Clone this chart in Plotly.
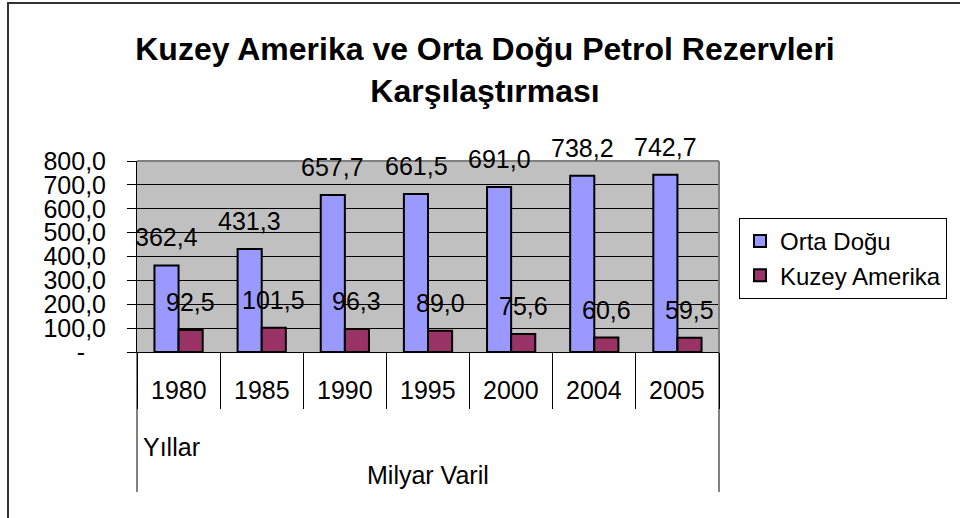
import plotly.graph_objects as go

categories = ["1980", "1985", "1990", "1995", "2000", "2004", "2005"]
orta_dogu = [362.4, 431.3, 657.7, 661.5, 691.0, 738.2, 742.7]
kuzey_amerika = [92.5, 101.5, 96.3, 89.0, 75.6, 60.6, 59.5]
series_names = ["Orta Doğu", "Kuzey Amerika"]
y_tick_vals = [0, 100, 200, 300, 400, 500, 600, 700, 800]
y_tick_text = ["-\u00a0\u00a0\u00a0", "100,0", "200,0", "300,0", "400,0", "500,0", "600,0", "700,0", "800,0"]
title_text = "Kuzey Amerika ve Orta Doğu Petrol Rezervleri<br>Karşılaştırması"
x_title_1 = "Yıllar"
x_title_2 = "Milyar Varil"

W, H = 960, 518
L, R, T, B = 137, 719, 161, 352
FONT = "Liberation Sans, Arial, sans-serif"

def px_x(px):
    return (px - L) / (R - L)

def px_y(py):
    return (B - py) / (B - T)

def fmt(v):
    return f"{v:.1f}".replace(".", ",")

fig = go.Figure()
fig.add_trace(go.Bar(x=categories, y=orta_dogu, name=series_names[0],
                     marker=dict(color="#9999FF", line=dict(color="black", width=2))))
fig.add_trace(go.Bar(x=categories, y=kuzey_amerika, name=series_names[1],
                     marker=dict(color="#993366", line=dict(color="black", width=2))))

annotations = []
for i, v in enumerate(orta_dogu):
    annotations.append(dict(x=i, y=v, xref="x", yref="y", text=fmt(v), showarrow=False,
                            xshift=-12, yshift=28, yanchor="middle",
                            font=dict(size=25, color="black", family=FONT)))
for i, v in enumerate(kuzey_amerika):
    annotations.append(dict(x=i, y=v, xref="x", yref="y", text=fmt(v), showarrow=False,
                            xshift=12, yshift=28, yanchor="middle",
                            font=dict(size=25, color="black", family=FONT)))
for i, c in enumerate(categories):
    annotations.append(dict(x=i, y=0, xref="x", yref="paper", text=c, showarrow=False,
                            yshift=-38, yanchor="middle",
                            font=dict(size=25, color="black", family=FONT)))
annotations.append(dict(x=px_x(141), y=px_y(447), xref="paper", yref="paper", text=x_title_1,
                        showarrow=False, xanchor="left", yanchor="middle",
                        font=dict(size=25, color="black", family=FONT)))
annotations.append(dict(x=0.5, y=px_y(475), xref="paper", yref="paper", text=x_title_2,
                        showarrow=False, xanchor="center", yanchor="middle",
                        font=dict(size=25, color="black", family=FONT)))

shapes = [
    dict(type="line", xref="paper", yref="paper", x0=0, x1=1, y0=1, y1=1,
         line=dict(color="#808080", width=2)),
    dict(type="line", xref="paper", yref="paper", x0=1, x1=1, y0=0, y1=1,
         line=dict(color="#808080", width=2)),
    dict(type="line", xref="paper", yref="paper", x0=0, x1=0, y0=0, y1=px_y(492),
         line=dict(color="black", width=1)),
    dict(type="line", xref="paper", yref="paper", x0=1, x1=1, y0=0, y1=px_y(492),
         line=dict(color="black", width=1)),
    dict(type="rect", xref="paper", yref="paper", x0=px_x(8), x1=px_x(975),
         y0=px_y(540), y1=px_y(3), line=dict(color="#333333", width=2)),
]

fig.update_layout(
    width=W, height=H,
    margin=dict(l=L, r=W - R, t=T, b=H - B, autoexpand=False),
    paper_bgcolor="white", plot_bgcolor="#C0C0C0",
    barmode="group", bargap=0.42, bargroupgap=0,
    font=dict(family=FONT, color="black", size=25),
    title=dict(text="<b>" + title_text + "</b>", x=485 / W, xanchor="center",
               y=1 - 60 / H, yanchor="middle", yref="container",
               font=dict(size=32, family=FONT, color="black")),
    legend=dict(x=px_x(739), y=px_y(218), xanchor="left", yanchor="top",
                bordercolor="black", borderwidth=1, bgcolor="white",
                font=dict(size=24, family=FONT, color="black"),
                tracegroupgap=0, itemsizing="constant"),
    annotations=annotations,
    shapes=shapes,
    xaxis=dict(type="category", range=[-0.5, len(categories) - 0.5], autorange=False,
               showticklabels=False, tickson="boundaries",
               ticks="outside", ticklen=56, tickcolor="black", tickwidth=1,
               showline=True, linecolor="black", linewidth=1, showgrid=False),
    yaxis=dict(range=[0, 800], autorange=False, tickvals=y_tick_vals, ticktext=y_tick_text,
               ticks="outside", ticklen=9, tickcolor="black", tickwidth=1,
               ticklabelstandoff=16,
               showline=True, linecolor="black", linewidth=1,
               showgrid=True, gridcolor="black", gridwidth=1, zeroline=False,
               tickfont=dict(size=25, family=FONT, color="black")),
)

fig.write_html("out.html", config={"displayModeBar": False},
               post_script="document.body.style.margin='0';document.body.style.overflow='hidden';")
